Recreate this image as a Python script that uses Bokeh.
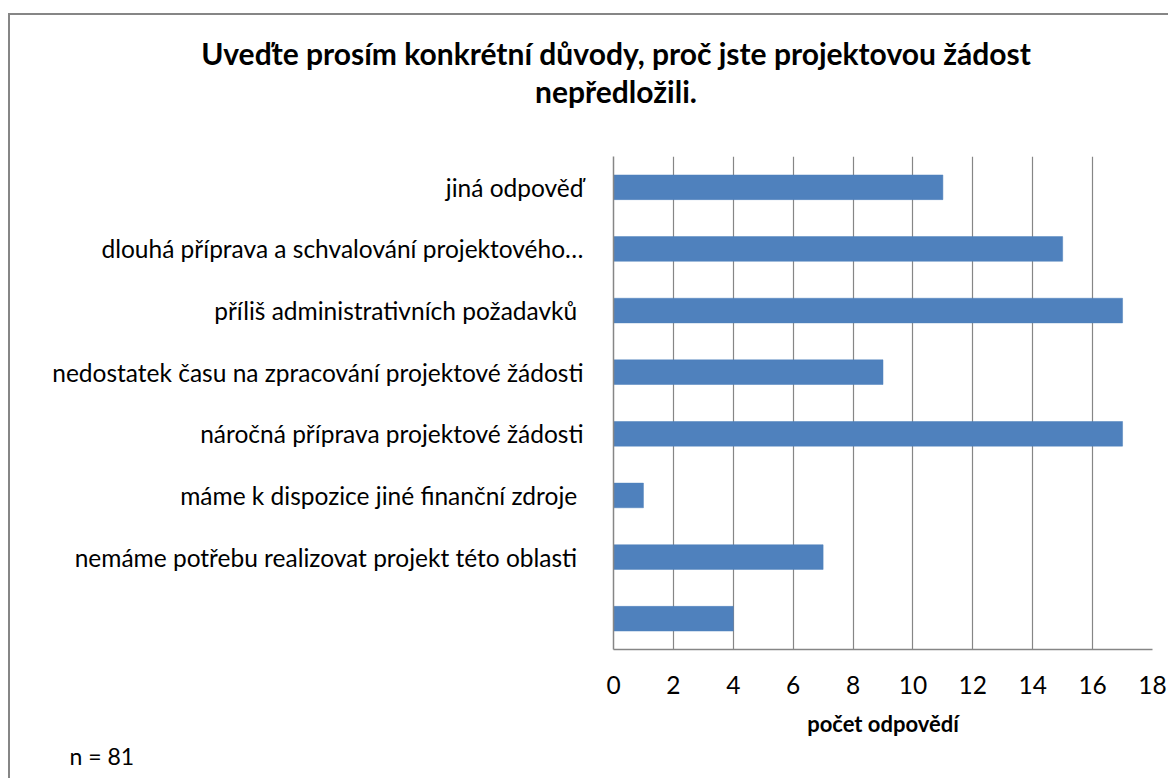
from bokeh.plotting import figure
from bokeh.models import Title, FactorRange, ColumnDataSource, Div
from bokeh.layouts import column
from bokeh.embed import file_html
from bokeh.resources import INLINE

categories = [
    "jiná odpověď",
    "dlouhá příprava a schvalování projektového…",
    "příliš administrativních požadavků ",
    "nedostatek času na zpracování projektové žádosti",
    "náročná příprava projektové žádosti",
    "máme k dispozice jiné finanční zdroje ",
    "nemáme potřebu realizovat projekt  této oblasti",
    " ",
]
values = [11, 15, 17, 9, 17, 1, 7, 4]
x_ticks = [0, 2, 4, 6, 8, 10, 12, 14, 16, 18]
title_lines = ["Uveďte prosím konkrétní důvody, proč jste projektovou žádost", "nepředložili."]
x_title = "počet odpovědí"
note = "n = 81"

FONT = "Lato"
GRAY = "#868686"

src = ColumnDataSource(dict(cat=categories, val=values))

W = 1158
TOP_H = 131
PLOT_H = 622

title_html = "".join(
    f'<div style="height:38px;line-height:38px;white-space:nowrap;">{t}</div>' for t in title_lines
)
title_div = Div(text=title_html, width=W, height=TOP_H,
                styles={"font-family": FONT, "font-weight": "bold", "font-size": "30px",
                        "color": "black", "text-align": "center", "padding-left": "44px",
                        "padding-top": "14px", "box-sizing": "border-box"})

p = figure(width=W, height=PLOT_H, output_backend="svg", toolbar_location=None,
           y_range=FactorRange(factors=list(reversed(categories))),
           x_range=(0, 18),
           min_border_left=603, min_border_right=16, min_border_top=0, min_border_bottom=129)

p.hbar(y="cat", right="val", height=0.4, source=src, fill_color="#4F81BD",
       line_color="#4F81BD", line_width=0.5)

p.outline_line_color = None
p.ygrid.grid_line_color = None
p.xgrid.grid_line_color = GRAY
p.xgrid.grid_line_width = 1.2
p.xgrid.ticker = x_ticks
p.xaxis.ticker = x_ticks

for ax in (p.xaxis, p.yaxis):
    ax.axis_line_color = GRAY
    ax.axis_line_width = 1.5
    ax.major_tick_line_color = None
    ax.minor_tick_line_color = None
    ax.major_label_text_font = FONT
    ax.major_label_text_font_size = "24.5px"
    ax.major_label_text_color = "black"

p.xaxis.major_label_standoff = 20
p.yaxis.major_label_standoff = 24
p.xaxis.axis_label = x_title
p.xaxis.axis_label_text_font = FONT
p.xaxis.axis_label_text_font_style = "bold"
p.xaxis.axis_label_text_font_size = "22px"
p.xaxis.axis_label_text_color = "black"
p.xaxis.axis_label_standoff = 13

n_title = Title(text=note, align="left", offset=-544, standoff=0,
                text_font=FONT, text_font_style="normal", text_font_size="23px", text_color="black")
p.add_layout(n_title, "below")

layout = column(title_div, p, spacing=0)
layout.styles = {"border-top": "2px solid #868686", "border-left": "2px solid #868686",
                 "margin-top": "13px", "margin-left": "8px"}

open("out.html", "w").write(file_html(layout, INLINE))
